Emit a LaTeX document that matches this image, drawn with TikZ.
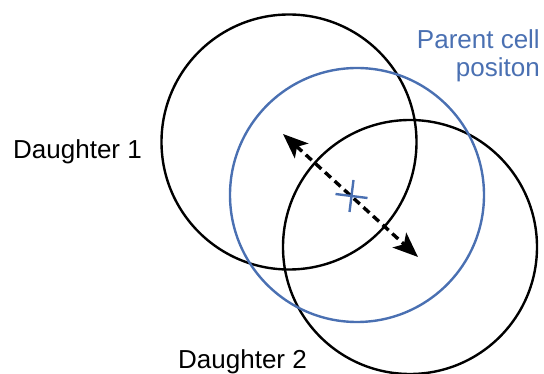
\documentclass[tikz,border=0pt]{standalone}
\usepackage{fontspec}
\setmainfont{Liberation Sans}
\usetikzlibrary{arrows.meta}
\definecolor{cellblue}{RGB}{74,112,178}
\tikzset{
  cellcirc/.style={line width=2.4pt, draw=black},
  parentcirc/.style={line width=2.4pt, draw=cellblue},
  divarrow/.style={line width=3.4pt, dash pattern=on 8pt off 5pt,
    {Stealth[length=25pt,width=20pt,inset=6pt]}-{Stealth[length=25pt,width=20pt,inset=6pt]}},
  marker/.style={line width=2.4pt, draw=cellblue},
  lbl/.style={font=\fontsize{26pt}{30pt}\selectfont, inner sep=0pt},
}
\begin{document}
\begin{tikzpicture}[x=1pt,y=-1pt]
\useasboundingbox (0,0) rectangle (544,374);
% circles
\node[circle, minimum size=255pt, cellcirc, inner sep=0pt] (d1) at (289,142) {};
\node[circle, minimum size=254pt, cellcirc, inner sep=0pt] (d2) at (410,247) {};
\node[circle, minimum size=254pt, parentcirc, inner sep=0pt] (p) at (357,195) {};
% division arrow
\coordinate (ta) at (283,134);
\coordinate (tb) at (418,257);
\draw[divarrow] (ta) -- (tb);
% parent position marker
\coordinate (m1a) at (335.5,194);
\coordinate (m1b) at (367.5,198);
\coordinate (m2a) at (353.5,180);
\coordinate (m2b) at (349.5,212);
\draw[marker] (m1a) -- (m1b);
\draw[marker] (m2a) -- (m2b);
% labels
\node[lbl, text=cellblue, anchor=base east] (pt1) at (540,49) {Parent cell};
\node[lbl, text=cellblue, anchor=base east] (pt2) at (540,77) {positon};
\node[lbl, anchor=base west] (l1) at (13,159) {Daughter 1};
\node[lbl, anchor=base west] (l2) at (178,368) {Daughter 2};
\end{tikzpicture}
\end{document}
